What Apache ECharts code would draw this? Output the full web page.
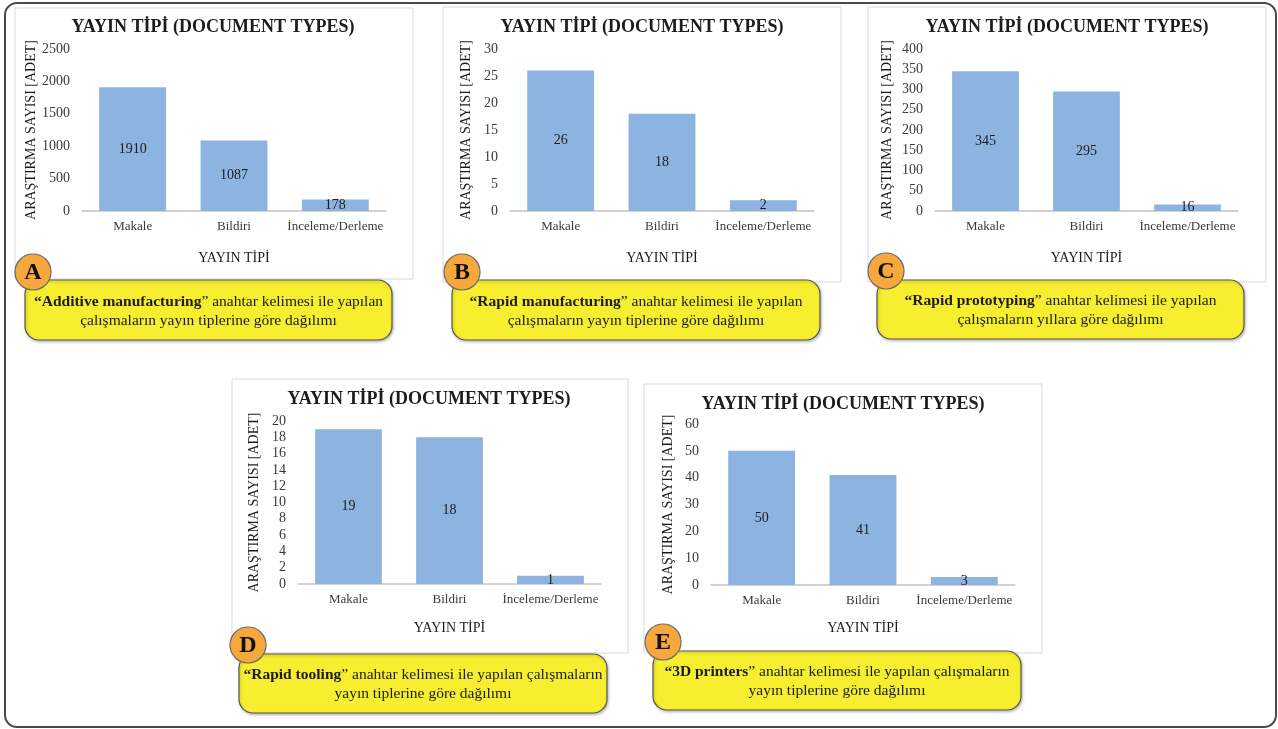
<!DOCTYPE html>
<html>
<head>
<meta charset="utf-8">
<script src="https://cdn.jsdelivr.net/npm/echarts@6/dist/echarts.min.js"></script>
<style>
  html, body { margin: 0; padding: 0; background: #ffffff; }
  #chart { width: 1278px; height: 729px; }
</style>
</head>
<body>
<div id="chart"></div>
<script>
// Publication-type breakdown for five keyword searches
const categories = ['Makale', 'Bildiri', 'İnceleme/Derleme'];

const valuesA = [1910, 1087, 178];   // Additive manufacturing
const valuesB = [26, 18, 2];         // Rapid manufacturing
const valuesC = [345, 295, 16];      // Rapid prototyping
const valuesD = [19, 18, 1];         // Rapid tooling
const valuesE = [50, 41, 3];         // 3D printers

const axisMax = [2500, 30, 400, 20, 60];
const axisStep = [500, 5, 50, 2, 10];

const chartTitle = 'YAYIN TİPİ (DOCUMENT TYPES)';
const yAxisTitle = 'ARAŞTIRMA SAYISI [ADET]';
const xAxisTitle = 'YAYIN TİPİ';

const panelLetters = ['A', 'B', 'C', 'D', 'E'];
const keywords = [
  'Additive manufacturing',
  'Rapid manufacturing',
  'Rapid prototyping',
  'Rapid tooling',
  '3D printers'
];
const captionRest = [
  [' anahtar kelimesi ile yapılan', 'çalışmaların yayın tiplerine göre dağılımı'],
  [' anahtar kelimesi ile yapılan', 'çalışmaların yayın tiplerine göre dağılımı'],
  [' anahtar kelimesi ile yapılan', 'çalışmaların yıllara göre dağılımı'],
  [' anahtar kelimesi ile yapılan çalışmaların', 'yayın tiplerine göre dağılımı'],
  [' anahtar kelimesi ile yapılan çalışmaların', 'yayın tiplerine göre dağılımı']
];

const seriesValues = [valuesA, valuesB, valuesC, valuesD, valuesE];

// Layout of each panel: plot grid, white frame, title centre, badge, caption box
const layout = [
  { grid: [82, 49, 304, 162], frame: [15, 8, 398, 271], title: [213, 27], yGap: 44, xGap: 40,
    badge: [33, 272], cap: [25, 280, 367, 60] },
  { grid: [510, 49, 304, 162], frame: [443, 7, 398, 275], title: [642, 27], yGap: 37, xGap: 40,
    badge: [462, 272], cap: [452, 280, 368, 60] },
  { grid: [935, 49, 303, 162], frame: [868, 7, 398, 275], title: [1067, 27], yGap: 41, xGap: 40,
    badge: [886, 271], cap: [877, 280, 367, 59] },
  { grid: [298, 421, 303, 163], frame: [232, 379, 396, 274], title: [429, 399], yGap: 37, xGap: 37,
    badge: [248, 645], cap: [239, 654, 368, 59] },
  { grid: [711, 424, 304, 161], frame: [644, 384, 398, 269], title: [843, 404], yGap: 36, xGap: 36,
    badge: [663, 642], cap: [653, 651, 368, 59] }
];

const SERIF = '"Liberation Serif", "Times New Roman", serif';
const BAR_COLOR = '#8db3e1';
const TEXT_DARK = '#1c1c1c';
const TEXT_AXIS = '#3a3a3a';

const grids = [], xAxes = [], yAxes = [], series = [], graphics = [];

// Outer rounded border around all panels
graphics.push({
  type: 'rect', z: 0,
  shape: { x: 5, y: 3, width: 1271, height: 724, r: 12 },
  style: { fill: '#ffffff', stroke: '#4a4a4a', lineWidth: 2 }
});

layout.forEach((p, i) => {
  grids.push({ left: p.grid[0], top: p.grid[1], width: p.grid[2], height: p.grid[3] });

  xAxes.push({
    type: 'category', gridIndex: i, data: categories, z: 5,
    axisLine: { lineStyle: { color: '#c4c4c4', width: 1.5 } },
    axisTick: { show: false },
    axisLabel: { fontFamily: SERIF, fontSize: 13, color: TEXT_AXIS, margin: 9, interval: 0 },
    name: xAxisTitle, nameLocation: 'middle', nameGap: p.xGap,
    nameTextStyle: { fontFamily: SERIF, fontSize: 14, color: TEXT_DARK }
  });

  yAxes.push({
    type: 'value', gridIndex: i, min: 0, max: axisMax[i], interval: axisStep[i], z: 5,
    axisLine: { show: false }, axisTick: { show: false }, splitLine: { show: false },
    axisLabel: {
      fontFamily: SERIF, fontSize: 14, color: TEXT_AXIS, margin: 12,
      formatter: (v) => String(v)
    },
    name: yAxisTitle, nameLocation: 'middle', nameRotate: 90, nameGap: p.yGap,
    nameTextStyle: { fontFamily: SERIF, fontSize: 14, color: TEXT_DARK }
  });

  series.push({
    type: 'bar', xAxisIndex: i, yAxisIndex: i, data: seriesValues[i], z: 6,
    barWidth: '66%',
    itemStyle: { color: BAR_COLOR },
    label: { show: true, position: 'inside', fontFamily: SERIF, fontSize: 14, color: TEXT_DARK },
    emphasis: { disabled: true },
    animation: false
  });

  // White chart frame
  graphics.push({
    type: 'rect', z: 1,
    shape: { x: p.frame[0], y: p.frame[1], width: p.frame[2], height: p.frame[3] },
    style: { fill: '#ffffff', stroke: '#d9d9d9', lineWidth: 1 }
  });

  // Chart title
  graphics.push({
    type: 'text', z: 3,
    style: {
      x: p.title[0], y: p.title[1], text: chartTitle,
      fontFamily: SERIF, fontSize: 18, fontWeight: 'bold', fill: TEXT_DARK,
      align: 'center', verticalAlign: 'middle'
    }
  });

  // Yellow caption box
  graphics.push({
    type: 'rect', z: 10,
    shape: { x: p.cap[0], y: p.cap[1], width: p.cap[2], height: p.cap[3], r: 14 },
    style: {
      fill: '#f6ee2e', stroke: '#555555', lineWidth: 1.2,
      shadowColor: 'rgba(0,0,0,0.25)', shadowBlur: 3, shadowOffsetX: 1, shadowOffsetY: 1.5
    }
  });
  graphics.push({
    type: 'text', z: 11,
    style: {
      x: p.cap[0] + p.cap[2] / 2, y: p.cap[1] + p.cap[3] / 2 + 1,
      text: '{b|“' + keywords[i] + '}{n|”' + captionRest[i][0] + '}\n{n|' + captionRest[i][1] + '}',
      align: 'center', verticalAlign: 'middle',
      fontFamily: SERIF, fontSize: 15.5, fill: TEXT_DARK, lineHeight: 19,
      rich: {
        b: { fontFamily: SERIF, fontSize: 15.5, fontWeight: 'bold', fill: TEXT_DARK, lineHeight: 19 },
        n: { fontFamily: SERIF, fontSize: 15.5, fill: TEXT_DARK, lineHeight: 19 }
      }
    }
  });

  // Lettered badge
  graphics.push({
    type: 'circle', z: 12,
    shape: { cx: p.badge[0], cy: p.badge[1], r: 18 },
    style: { fill: '#f7a83c', stroke: '#6a6a6a', lineWidth: 1.2 }
  });
  graphics.push({
    type: 'text', z: 13,
    style: {
      x: p.badge[0], y: p.badge[1] + 1, text: panelLetters[i],
      fontFamily: SERIF, fontSize: 24, fontWeight: 'bold', fill: '#111111',
      align: 'center', verticalAlign: 'middle'
    }
  });
});

const chart = echarts.init(document.getElementById('chart'), null, { renderer: 'canvas' });
chart.setOption({
  animation: false,
  backgroundColor: '#ffffff',
  grid: grids,
  xAxis: xAxes,
  yAxis: yAxes,
  series: series,
  graphic: { elements: graphics }
});
</script>
</body>
</html>
